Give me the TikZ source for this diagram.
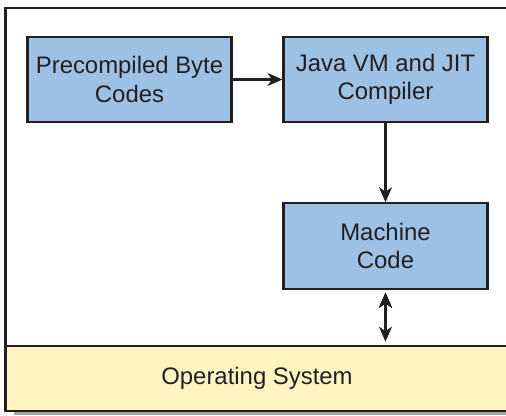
\documentclass[tikz,border=0pt]{standalone}
\usepackage{fontspec}
\setmainfont{Liberation Sans}
\usetikzlibrary{arrows.meta}

\definecolor{boxblue}{RGB}{157,193,228}
\definecolor{osyellow}{RGB}{255,244,194}
\definecolor{inkgray}{RGB}{35,31,32}

\begin{document}
\begin{tikzpicture}[
        box/.style={shape=rectangle, draw=inkgray, line width=1.2pt, fill=boxblue, text=inkgray,
            minimum width=4.08cm, minimum height=1.71cm, align=center,
            font=\fontsize{13.6}{16}\selectfont},
        tip/.tip={Stealth[length=3mm,width=2.6mm,inset=0.9mm]}
    ]
    \useasboundingbox (0,0) rectangle (10.12,8.3);

    % shadow under the OS bar and the outer frame
    \fill[gray!70] (0.28,0) rectangle (10.3,0.08);
    \draw[inkgray, line width=1.5pt] (10.3,8.14) -- (0.11,8.14) -- (0.11,1.38);

    \node[box] (A) at (2.59,6.71) {Precompiled Byte\\Codes};
    \node[box] (B) at (7.71,6.71) {Java VM and JIT\\Compiler};
    \node[box] (C) at (7.71,3.38) {Machine\\Code};

    \node[shape=rectangle, draw=inkgray, line width=1.5pt, fill=osyellow, text=inkgray,
        minimum width=10.06cm, minimum height=1.30cm,
        font=\fontsize{13.6}{16}\selectfont] (D) at (5.14,0.73) {Operating System};

    \begin{scope}[every edge/.style={draw=inkgray, line width=1.2pt}]

        \draw [-tip](A) edge (B);
        \draw [-tip](B) edge (C);
        \draw [tip-tip, shorten <=0.06cm, shorten >=0.06cm](C.south) edge (C.south |- D.north);

    \end{scope}

\end{tikzpicture}
\end{document}
